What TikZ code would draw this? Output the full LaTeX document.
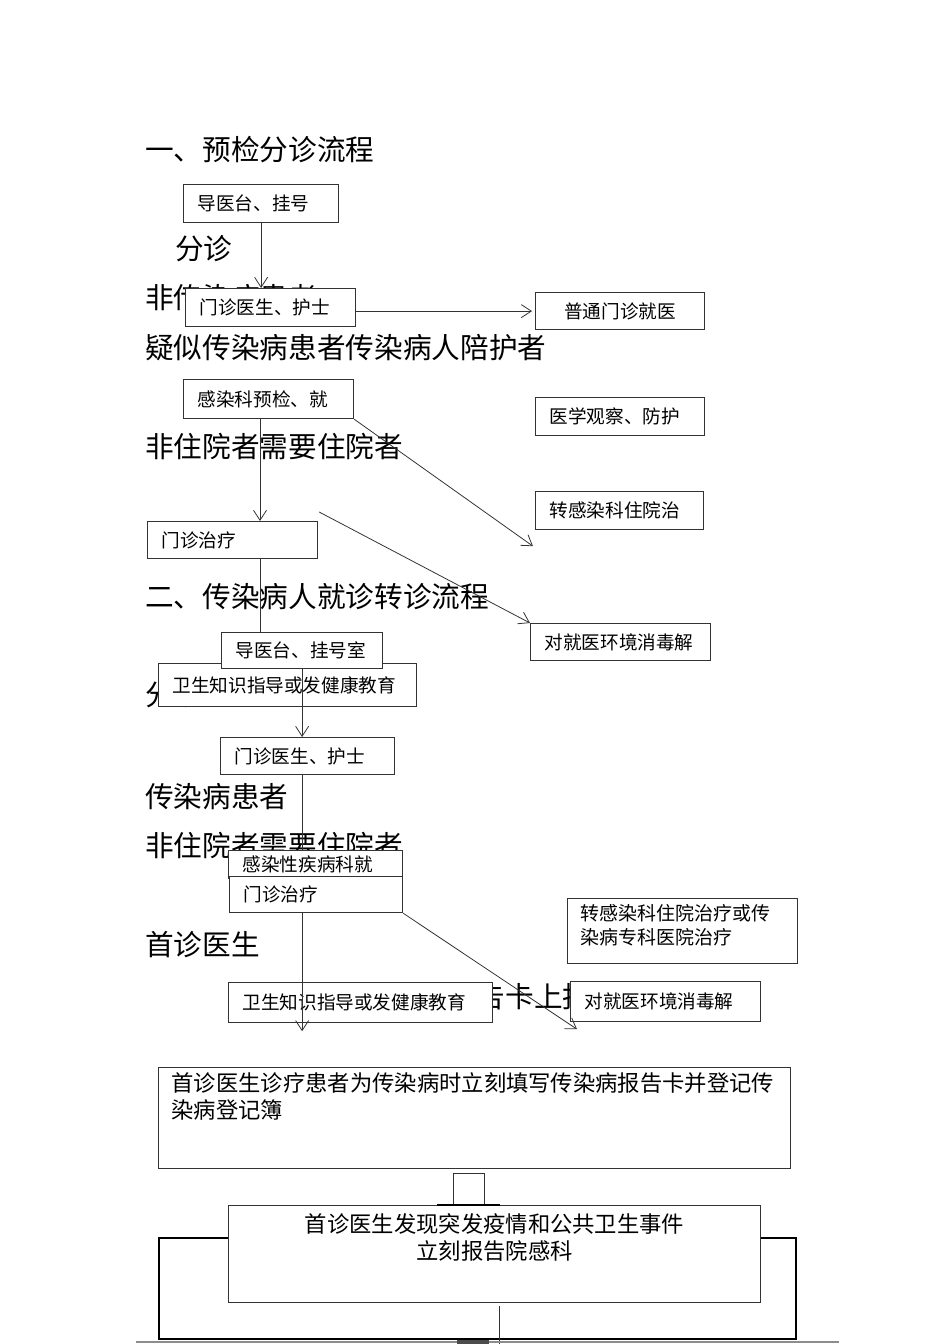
\documentclass[tikz,border=0pt]{standalone}
\usepackage{fontspec}
\setmainfont{Noto Sans CJK SC}
\usetikzlibrary{positioning, arrows.meta, calc}

\begin{document}
\begin{tikzpicture}[%
		x=0.02cm, y=-0.02cm,
		title/.style={
			anchor=west,
			inner sep=0pt,
			font=\fontsize{16.3}{20}\selectfont
		},
		box/.style={
			rectangle,
			anchor=north west,
			align=left,
			draw=black!80,
			line width=0.7pt,
			fill=white,
			inner xsep=0.28cm,
			inner ysep=0pt,
			font=\fontsize{10.6}{13.6}\selectfont
		},
		bigbox/.style={
			box,
			inner xsep=0.26cm,
			font=\fontsize{12.7}{15.3}\selectfont
		},
		flowarrow/.style={
			draw=black!80,
			line width=0.45pt,
			-{Straight Barb[length=2mm,width=2.6mm]}
		},
		flowline/.style={
			draw=black!80,
			line width=0.45pt
		},
		frame/.style={
			draw=black,
			line width=1.2pt
		}]

		\fill[white] (0,0) rectangle (950,1344);
		\useasboundingbox (0,0) rectangle (950,1344);

		% TEXT
		\node (t1) [title] at (145,150) {一、预检分诊流程};
		\node (fz1) [title] at (175,249) {分诊};
		\node (fcr) [title] at (145,298) {非传染病患者};
		\node (ys) [title] at (145,348) {疑似传染病患者传染病人陪护者};
		\node (zy1) [title] at (145,447) {非住院者需要住院者};
		\node (t2) [title] at (145,597) {二、传染病人就诊转诊流程};
		\node (fz2) [title] at (145,695) {分诊};
		\node (crb) [title] at (145,797) {传染病患者};
		\node (zy2) [title] at (145,845) {非住院者需要住院者};
		\node (sz) [title] at (145,945) {首诊医生};
		\node (bgk) [title] at (362,997) {传染病报告卡上报};

		% PART ONE
		\node (a1) [box, text width=2.54cm, minimum height=0.76cm] at (183,184) {导医台、挂号};
		\node (a2) [box, text width=2.84cm, minimum height=0.76cm] at (185,288) {门诊医生、护士};
		\node (a3) [box, text width=2.82cm, minimum height=0.74cm, align=center] at (535,292) {普通门诊就医};
		\node (a4) [box, text width=2.84cm, minimum height=0.78cm] at (183,379) {感染科预检、就};
		\node (a5) [box, text width=2.82cm, minimum height=0.76cm] at (535,397) {医学观察、防护};
		\node (a6) [box, text width=2.80cm, minimum height=0.76cm] at (535,491) {转感染科住院治};
		\node (a7) [box, text width=2.84cm, minimum height=0.74cm] at (147,521) {门诊治疗};
		\node (a8) [box, text width=3.04cm, minimum height=0.74cm] at (530,623) {对就医环境消毒解};

		% PART TWO
		\node (b2) [box, text width=4.60cm, minimum height=0.86cm] at (158,663) {卫生知识指导或发健康教育};
		\node (b1) [box, text width=2.66cm, minimum height=0.72cm] at (221,632) {导医台、挂号室};
		\node (b3) [box, text width=2.92cm, minimum height=0.74cm] at (220,737) {门诊医生、护士};
		\node (b4) [box, text width=2.92cm, minimum height=0.56cm] at (228,850) {感染性疾病科就};
		\node (b5) [box, text width=2.90cm, minimum height=0.72cm] at (229,876) {门诊治疗};
		\node (b6) [box, inner xsep=0.26cm, inner ysep=0.12cm, font=\fontsize{10.8}{13.6}\selectfont] at (567,898) {\parbox[c][1.06cm][t]{4.08cm}{转感染科住院治疗或传\\染病专科医院治疗}};
		\node (b7) [box, text width=4.72cm, minimum height=0.80cm] at (228,982) {卫生知识指导或发健康教育};
		\node (b8) [box, text width=3.24cm, minimum height=0.80cm] at (570,981) {对就医环境消毒解};

		% REPORT
		\node (c1) [bigbox, inner ysep=0.1cm] at (158,1067) {\parbox[c][1.82cm][t]{12.12cm}{首诊医生诊疗患者为传染病时立刻填写传染病报告卡并登记传\\染病登记簿}};
		\draw[frame] (159,1238) rectangle (796,1339);
		\node (c2) [bigbox, inner ysep=0.16cm] at (228,1205) {\parbox[c][1.62cm][t]{10.12cm}{\centering 首诊医生发现突发疫情和公共卫生事件\\立刻报告院感科}};

		\coordinate (a4v) at ($(a4.south west)+(77,0)$);
		\coordinate (a6tip) at ($(a6.south west)+(-2,16)$);
		\coordinate (a7tr) at ($(a7.north east)+(1,-9)$);
		\coordinate (b8tip) at ($(b8.south west)+(7,7)$);
		\coordinate (brk) at ($(c1.south west)+(295,4)$);
		\coordinate (brk2) at ($(brk)+(31,0)$);
		\coordinate (c2v) at ($(c2.south west)+(271,3)$);

		% PART ONE LINES
		\draw[flowarrow] (a1.south) -- (a1.south |- a2.north);
		\draw[flowarrow, shorten >=0.06cm] (a2.east |- a3.west) -- (a3.west);
		\draw[flowarrow] (a4.south east) -- (a6tip);
		\draw[flowarrow] (a4v) -- (a4v |- a7.north);
		\draw[flowarrow] (a7tr) -- (a8.north west);
		\draw[flowline] (a4v |- a7.south) -- (a4v |- b1.north);

		% PART TWO LINES
		\draw[flowarrow] (b1.south) -- (b1.south |- b3.north);
		\draw[flowline] (b1.south |- b3.south) -- (b1.south |- b4.north);
		\draw[flowarrow] (b1.south |- b5.south) -- ($(b1.south |- b7.south)+(0,8)$);
		\draw[flowarrow] (b5.south east) -- (b8tip);

		% REPORT LINES
		\draw[flowline] (brk |- c2.north) -- (brk) -- (brk2) -- (brk2 |- c2.north);
		\draw[line width=1.2pt] ($(brk |- c2.north)+(-16,0)$) -- ($(brk2 |- c2.north)+(16,0)$);
		\draw[flowline] (c2v) -- ++(0,45);

		% BOTTOM EDGE
		\draw[line width=1.6pt, black!45] (136,1342) -- (839,1342);
		\fill[black!70] (457,1340) rectangle (489,1344);
\end{tikzpicture}
\end{document}
